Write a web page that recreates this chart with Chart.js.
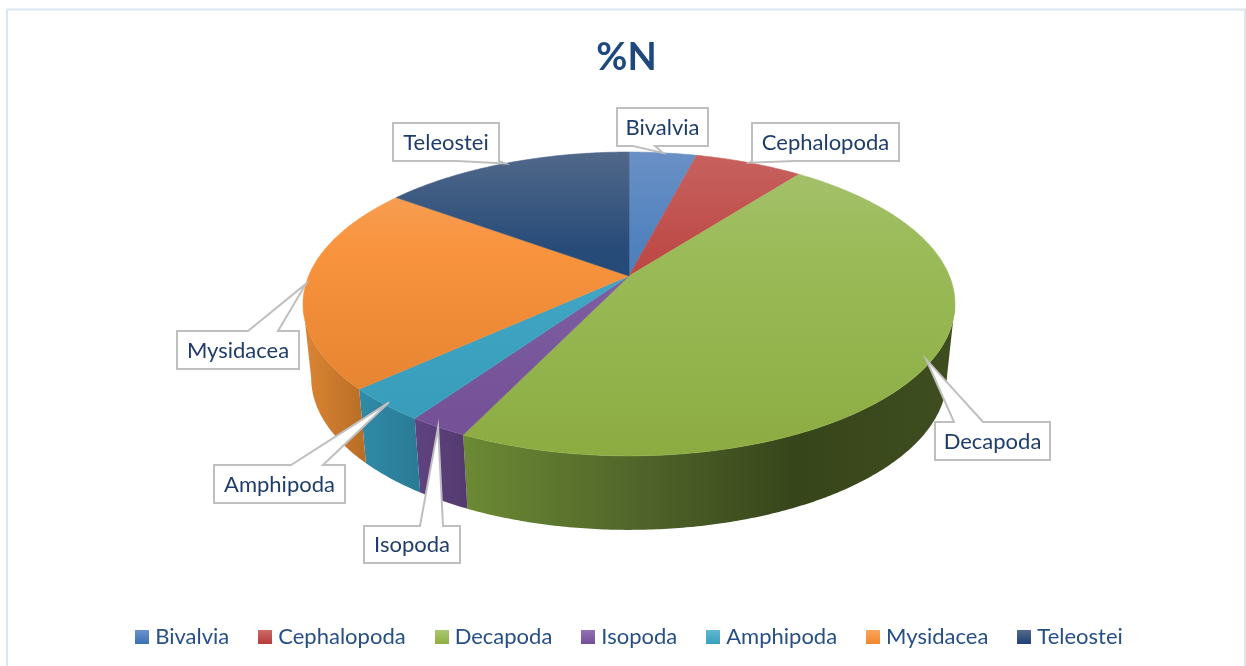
<!DOCTYPE html>
<html>
<head>
<meta charset="utf-8">
<style>html,body{margin:0;padding:0;background:#fff;overflow:hidden}canvas{display:block}</style>
<script src="https://cdn.jsdelivr.net/npm/chart.js@4/dist/chart.umd.js"></script>
</head>
<body>
<div style="width:1246px;height:666px"><canvas id="c" width="1246" height="666"></canvas></div>
<script>
const categories = ['Bivalvia','Cephalopoda','Decapoda','Isopoda','Amphipoda','Mysidacea','Teleostei'];
const values = [4.0,6.4,46.7,2.5,3.6,21.9,14.9];
const chartTitle = '%N';

// styles
const baseColors = ['#4a7ebb','#be4b48','#98b954','#7d5fa0','#46aac4','#f79646','#264a78'];
const topShades = [
  ['#6a90c6','#4f81bd','#3f74b4'],
  ['#c7625f','#be4b48','#b03f3c'],
  ['#a6c26e','#9bbb59','#8cac42'],
  ['#9070b0','#7f5fa3','#734f95'],
  ['#5cb4cf','#42a8c6','#369ab8'],
  ['#f5a562','#f9933e','#dd7e2c'],
  ['#51688a','#274b78','#1f3f6b']
];
const sideShades = [
  ['#3c6494','#2f5280'],['#96403c','#7e3431'],
  ['#6c8a34','#4e6229','#37451a','#3f4e20'],
  ['#5f4382','#533a6d'],['#2f8ba8','#2a7a94'],
  ['#dc8534','#b76d25'],['#1d3558','#1d3558']
];
const swatchShades = [
  ['#6a93cb','#3a72b4'],['#cb6c68','#b83a38'],['#aac872','#8fb03f'],
  ['#9273b3','#734f98'],['#62b8d2','#37a0bd'],['#fba660','#f4862a'],['#54698c','#1f4276']
];
// label box layout [left, top, right, bottom, wedge base start, wedge base end, edge, tip radius]
const labelBoxes = [
  [617,108,708,146,633,655,'b',1],
  [752,123,899,161,752,795,'b',1],
  [935,422,1050,460,954,983,'t',0.985],
  [364,526,460,563,420,443,'t',1],
  [214,465,345,503,291,323,'t',0.985],
  [177,331,299,369,248,278,'t',1],
  [393,123,499,161,457,499,'b',1]
];
const FONT = 'Lato, Carlito, "Open Sans", sans-serif';
const labelColor = '#1f3d6b';

// perspective of the pie top
const P = {cx:629, ay:276, k:-0.184, s:320.4, a:96, depth:74, shrink:0.975, top:152, bottom:456,
           sideFrom:100.6*Math.PI/180, sideTo:259.4*Math.PI/180};
function proj(theta, rho){
  const x = Math.sin(theta)*rho, y = -Math.cos(theta)*rho;
  const w = 1 + P.k*y;
  return [P.cx + P.s*x/w, (P.a*y + P.ay)/w];
}
function low(p){ return [P.cx + (p[0]-P.cx)*P.shrink, p[1]+P.depth]; }
function arcPts(a0,a1){
  const n = Math.max(2, Math.ceil((a1-a0)/0.01)), pts=[];
  for(let i=0;i<=n;i++) pts.push(proj(a0+(a1-a0)*i/n,1));
  return pts;
}
function stopsFill(ctx, g, shades, pos){
  shades.forEach((c,i)=>g.addColorStop(pos?pos[i]:i/(shades.length-1), c));
  return g;
}

const pie3d = {
  id:'pie3d',
  beforeDatasetDraw(chart, args){
    const ctx = chart.ctx, arcs = args.meta.data;
    ctx.save();
    // sides: only the part of the rim that faces the viewer
    arcs.forEach((el,i)=>{
      const a0 = Math.max(el.startAngle+Math.PI/2, P.sideFrom), a1 = Math.min(el.endAngle+Math.PI/2, P.sideTo);
      if(a1<=a0) return;
      const rim = arcPts(a0,a1), lo = rim.map(low);
      const xs = rim.concat(lo).map(p=>p[0]);
      const g = ctx.createLinearGradient(Math.min(...xs),0,Math.max(...xs),0);
      const pos = sideShades[i].length===4 ? [0,0.38,0.68,1] : null;
      stopsFill(ctx,g,sideShades[i],pos);
      ctx.fillStyle = g;
      ctx.beginPath();
      rim.forEach((p,j)=> j? ctx.lineTo(p[0],p[1]) : ctx.moveTo(p[0],p[1]));
      lo.reverse().forEach(p=>ctx.lineTo(p[0],p[1]));
      ctx.closePath();
      ctx.fill();
    });
    // tops
    arcs.forEach((el,i)=>{
      const a0 = el.startAngle+Math.PI/2, a1 = el.endAngle+Math.PI/2;
      const rim = arcPts(a0,a1);
      const g = ctx.createLinearGradient(0,P.top,0,P.bottom);
      stopsFill(ctx,g,topShades[i],[0,0.32,1]);
      ctx.fillStyle = g;
      ctx.beginPath();
      ctx.moveTo(P.cx,P.ay);
      rim.forEach(p=>ctx.lineTo(p[0],p[1]));
      ctx.closePath();
      ctx.fill();
      ctx.strokeStyle = g; ctx.lineWidth = 0.6; ctx.stroke();
    });
    ctx.restore();
    return false;
  },
  afterDatasetsDraw(chart){
    const ctx = chart.ctx, arcs = chart.getDatasetMeta(0).data;
    ctx.save();
    arcs.forEach((el,i)=>{
      const [l,t,r,b,b0,b1,edge,rho] = labelBoxes[i];
      const tip = proj((el.startAngle+el.endAngle)/2+Math.PI/2, rho);
      ctx.beginPath();
      ctx.moveTo(l,t);
      if(edge==='t'){ ctx.lineTo(b0,t); ctx.lineTo(tip[0],tip[1]); ctx.lineTo(b1,t); }
      ctx.lineTo(r,t); ctx.lineTo(r,b);
      if(edge==='b'){ ctx.lineTo(b1,b); ctx.lineTo(tip[0],tip[1]); ctx.lineTo(b0,b); }
      ctx.lineTo(l,b); ctx.closePath();
      ctx.fillStyle='#fff'; ctx.fill();
      ctx.strokeStyle='#bfbfbf'; ctx.lineWidth=2; ctx.lineJoin='miter'; ctx.stroke();
      ctx.fillStyle=labelColor;
      ctx.font='22px '+FONT;
      ctx.textAlign='center'; ctx.textBaseline='middle';
      ctx.fillText(categories[i],(l+r)/2,(t+b)/2+0.5);
    });
    ctx.restore();
  },
  afterLayout(chart){
    chart.legend.left += 5; chart.legend.right += 5;
  },
  beforeDraw(chart){
    const ctx = chart.ctx;
    ctx.save();
    ctx.fillStyle='#fff'; ctx.fillRect(0,0,chart.width,chart.height);
    ctx.strokeStyle='#dce5f2'; ctx.lineWidth=2;
    ctx.beginPath(); ctx.moveTo(7,670); ctx.lineTo(7,9.5); ctx.lineTo(1245,9.5); ctx.lineTo(1245,670); ctx.stroke();
    ctx.restore();
  }
};

function swatch(i){
  const c = document.createElement('canvas'); c.width=14; c.height=14;
  const x = c.getContext('2d'), g = x.createLinearGradient(0,0,0,14);
  g.addColorStop(0,swatchShades[i][0]); g.addColorStop(1,swatchShades[i][1]);
  x.fillStyle=g; x.fillRect(0,0,14,14);
  return c;
}

new Chart(document.getElementById('c'),{
  type:'pie',
  data:{labels:categories,datasets:[{data:values,backgroundColor:baseColors,borderWidth:0}]},
  plugins:[pie3d],
  options:{
    responsive:false,animation:false,
    layout:{padding:{left:7,right:0,top:35,bottom:8}},
    plugins:{
      tooltip:{enabled:false},
      title:{display:true,text:chartTitle,color:'#1f497d',font:{family:FONT,size:38,weight:'bold'},padding:{top:0,bottom:10}},
      legend:{
        position:'bottom',
        labels:{
          color:'#264f86',font:{family:FONT,size:22},
          usePointStyle:true,boxWidth:4,boxHeight:14,padding:34,
          generateLabels(chart){
            return categories.map((t,i)=>({text:t,pointStyle:swatch(i),fillStyle:baseColors[i],strokeStyle:baseColors[i],lineWidth:0,hidden:false,index:i,fontColor:'#264f86'}));
          }
        }
      }
    }
  }
});
</script>
</body>
</html>
